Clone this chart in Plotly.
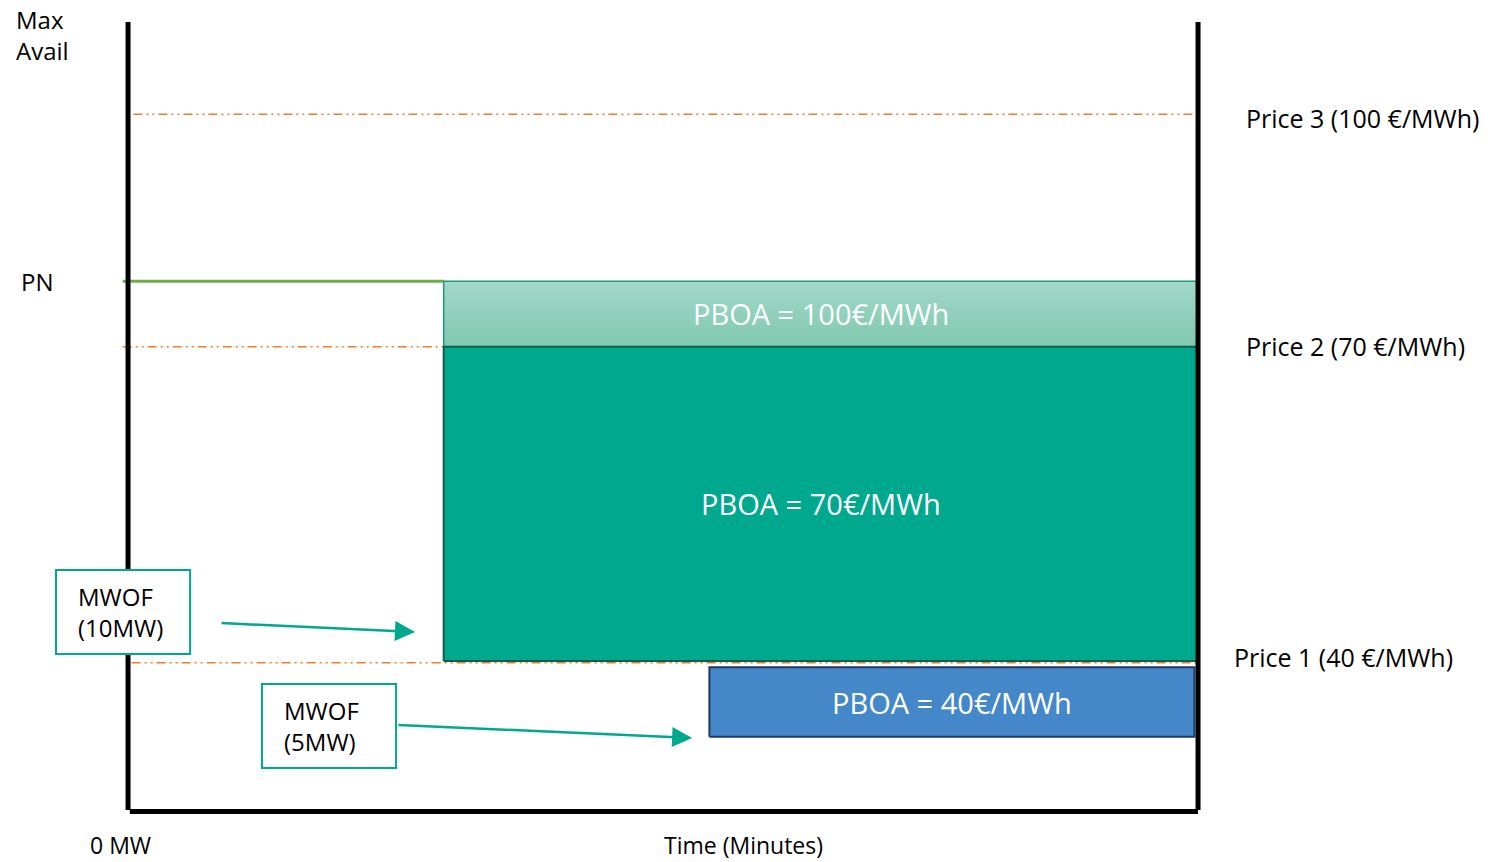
import plotly.graph_objects as go

# notional scales: time in minutes (0..60), output in "MW units" (0..100 = max avail)
T_END = 60
MAX_AVAIL = 100
PN_LEVEL = 67.1
PN_END = 17.7

price_levels = [18.7, 58.8, 88.3]
price_labels = ["Price 1 (40 €/MWh)", "Price 2 (70 €/MWh)", "Price 3 (100 €/MWh)"]
price_line_start = [0.2, -0.3, 0.3]
price_line_end = [60, 17.7, 59.8]
price_label_x = [61.9, 62.6, 62.6]
price_label_y = [19.4, 58.9, 87.8]

block_names = ["PBOA = 100€/MWh", "PBOA = 70€/MWh", "PBOA = 40€/MWh"]
block_x0 = [17.7, 17.7, 32.6]
block_x1 = [60, 60, 59.8]
block_y0 = [58.8, 18.9, 9.3]
block_y1 = [67.1, 58.8, 18.1]

mwof_labels = ["MWOF<br>(10MW)", "MWOF<br>(5MW)"]
mwof_box_x = [(-4.04, 3.48), (7.51, 15.03)]
mwof_box_y = [(19.8, 30.46), (5.33, 16.0)]
arrow_from = [(5.16, 23.73), (15.08, 10.79)]
arrow_to = [(16.09, 22.59), (31.63, 9.14)]

ORANGE = "#ED7D31"
TEAL = "#00A88E"
FONT = "Open Sans"

fig = go.Figure()

# price lines
for lvl, x0, x1 in zip(price_levels, price_line_start, price_line_end):
    fig.add_trace(go.Scatter(x=[x0, x1], y=[lvl, lvl], mode="lines",
                             line=dict(color=ORANGE, width=1.5, dash="9px,4px,2px,4px,2px,4px"),
                             hoverinfo="skip"))

# PN line
fig.add_trace(go.Scatter(x=[-0.3, PN_END], y=[PN_LEVEL, PN_LEVEL], mode="lines",
                         line=dict(color="#70AD47", width=3), hoverinfo="skip"))

# blocks
styles = [
    dict(fillcolor="#8fcfba", line=dict(color="#1a9a7c", width=1.5),
         fillgradient=dict(type="vertical", colorscale=[[0, "#80c8b0"], [1, "#a2d8c8"]])),
    dict(fillcolor=TEAL, line=dict(color="#0b5e4c", width=2)),
    dict(fillcolor="#4488C9", line=dict(color="#1F3864", width=2)),
]
for name, x0, x1, y0, y1, st in zip(block_names, block_x0, block_x1, block_y0, block_y1, styles):
    fig.add_trace(go.Scatter(x=[x0, x1, x1, x0, x0], y=[y0, y0, y1, y1, y0],
                             mode="lines", fill="toself", hoverinfo="skip", **st))
    fig.add_annotation(x=(x0 + x1) / 2, y=(y0 + y1) / 2, text=name, showarrow=False,
                       font=dict(family=FONT, size=29, color="white"))

# axes (drawn as thick black lines)
fig.add_trace(go.Scatter(x=[0, 0], y=[0, MAX_AVAIL], mode="lines",
                         line=dict(color="black", width=5), hoverinfo="skip"))
fig.add_trace(go.Scatter(x=[T_END, T_END], y=[0, MAX_AVAIL], mode="lines",
                         line=dict(color="black", width=5), hoverinfo="skip"))
fig.add_trace(go.Scatter(x=[0.1, T_END], y=[-0.2, -0.2], mode="lines",
                         line=dict(color="black", width=5), hoverinfo="skip"))

# MWOF boxes and arrows
for lab, bx, by, a0, a1 in zip(mwof_labels, mwof_box_x, mwof_box_y, arrow_from, arrow_to):
    fig.add_shape(type="rect", xref="x", yref="y", x0=bx[0], x1=bx[1], y0=by[0], y1=by[1],
                  fillcolor="white", line=dict(color=TEAL, width=2))
    fig.add_annotation(x=bx[0] + 1.1, y=(by[0] + by[1]) / 2, text=lab, showarrow=False,
                       xanchor="left", align="left",
                       font=dict(family=FONT, size=24, color="black"))
    fig.add_annotation(x=a1[0], y=a1[1], ax=a0[0], ay=a0[1], xref="x", yref="y",
                       axref="x", ayref="y", text="", showarrow=True,
                       arrowhead=2, arrowsize=1.6, arrowwidth=2.5, arrowcolor=TEAL)

# text labels
for lab, lx, ly in zip(price_labels, price_label_x, price_label_y):
    fig.add_annotation(x=lx, y=ly, text=lab, showarrow=False, xanchor="left",
                       font=dict(family=FONT, size=25, color="black"))

fig.add_annotation(x=-6.4, y=98.4, text="Max<br>Avail", showarrow=False, xanchor="left",
                   align="left", font=dict(family=FONT, size=24, color="black"))
fig.add_annotation(x=-6.1, y=PN_LEVEL, text="PN", showarrow=False, xanchor="left",
                   font=dict(family=FONT, size=24, color="black"))
fig.add_annotation(x=-0.4, y=-6.55, text="0 MW", showarrow=False, yanchor="bottom",
                   borderpad=0, font=dict(family=FONT, size=23, color="black"))
fig.add_annotation(x=34.5, y=-6.55, text="Time (Minutes)", showarrow=False, yanchor="bottom",
                   borderpad=0, font=dict(family=FONT, size=23, color="black"))

fig.update_layout(
    width=1493, height=862,
    margin=dict(l=0, r=0, t=0, b=0),
    plot_bgcolor="white", paper_bgcolor="white",
    showlegend=False,
    xaxis=dict(range=[-7.18, 76.54], visible=False, fixedrange=True),
    yaxis=dict(range=[-6.6, 102.79], visible=False, fixedrange=True),
)

fig.write_html("out.html", config={"displayModeBar": False},
               post_script="document.body.style.margin='0';document.body.style.overflow='hidden';")
